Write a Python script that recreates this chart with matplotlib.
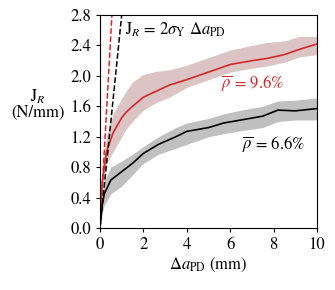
import matplotlib
matplotlib.use("Agg")
import matplotlib.pyplot as plt

plt.rcParams['font.family'] = 'serif'
plt.rcParams['font.serif'] = ['STIXGeneral', 'DejaVu Serif']
plt.rcParams['mathtext.fontset'] = 'stix'

# rho = 6.6 %
x_k = [0, 0.1, 0.2, 0.5, 1.0, 1.5, 2.0, 2.7, 3.5, 4.0, 5.0, 5.7, 6.5, 7.5, 8.2, 9.0, 10.0]
j_k = [0, 0.30, 0.45, 0.63, 0.74, 0.85, 0.98, 1.10, 1.20, 1.27, 1.32, 1.38, 1.42, 1.47, 1.55, 1.54, 1.57]
lo_k = [0, 0.20, 0.30, 0.45, 0.55, 0.70, 0.85, 0.97, 1.05, 1.10, 1.20, 1.24, 1.28, 1.32, 1.40, 1.42, 1.42]
hi_k = [0, 0.45, 0.62, 0.80, 0.88, 0.97, 1.07, 1.20, 1.32, 1.38, 1.44, 1.50, 1.55, 1.60, 1.67, 1.68, 1.71]

# rho = 9.6 %
x_r = [0, 0.1, 0.3, 0.6, 1.0, 1.2, 1.5, 2.0, 2.6, 3.2, 4.0, 5.0, 6.0, 7.0, 7.7, 8.5, 9.2, 10.0]
j_r = [0, 0.60, 1.00, 1.25, 1.45, 1.52, 1.60, 1.72, 1.80, 1.88, 1.95, 2.05, 2.15, 2.20, 2.23, 2.28, 2.35, 2.42]
lo_r = [0, 0.45, 0.85, 1.00, 1.20, 1.30, 1.40, 1.55, 1.65, 1.72, 1.85, 1.95, 2.05, 2.10, 2.13, 2.18, 2.25, 2.28]
hi_r = [0, 0.80, 1.20, 1.50, 1.70, 1.80, 1.92, 2.02, 2.06, 2.08, 2.14, 2.24, 2.34, 2.40, 2.44, 2.46, 2.52, 2.52]

# blunting lines J = slope * da
x_bl = [0, 1.2]
slope_k = 2.8
slope_r = 5.1

fig = plt.figure(figsize=(3.35, 2.9), dpi=100)
ax = fig.add_axes([0.2985, 0.214, 0.6475, 0.734])

ax.fill_between(x_r, lo_r, hi_r, color='#dcc4c4', lw=0)
ax.fill_between(x_k, lo_k, hi_k, color='#c0c0c0', lw=0)
ax.plot(x_r, j_r, color='#d62728', lw=1.2)
ax.plot(x_k, j_k, color='black', lw=1.2)
ax.plot(x_bl, [slope_r * v for v in x_bl], color='#d62728', ls='--', lw=1.1)
ax.plot(x_bl, [slope_k * v for v in x_bl], color='black', ls='--', lw=1.1)

ax.text(1.15, 2.6, r'J$_R$ = 2$\sigma_{\rm Y}$ $\Delta a_{\rm PD}$', fontsize=12, va='center')
ax.text(5.6, 1.9, r'$\overline{\rho}$ = 9.6%', fontsize=12, color='#d62728', va='center')
ax.text(6.55, 1.09, r'$\overline{\rho}$ = 6.6%', fontsize=12, va='center')

ax.set_xlim(0, 10)
ax.set_ylim(0, 2.8)
ax.set_xticks([0, 2, 4, 6, 8, 10])
ax.set_yticks([0.0, 0.4, 0.8, 1.2, 1.6, 2.0, 2.4, 2.8])
ax.set_yticklabels(['0.0', '0.4', '0.8', '1.2', '1.6', '2.0', '2.4', '2.8'])
ax.tick_params(labelsize=12, length=3)
ax.set_xlabel(r'$\Delta a_{\rm PD}$ (mm)', fontsize=12, labelpad=2)
ax.set_ylabel('J$_R$\n(N/mm)', fontsize=12, rotation=0, ha='center', va='center',
              linespacing=0.9)
ax.yaxis.set_label_coords(-0.285, 0.58)

fig.savefig('out.png', dpi=100)
